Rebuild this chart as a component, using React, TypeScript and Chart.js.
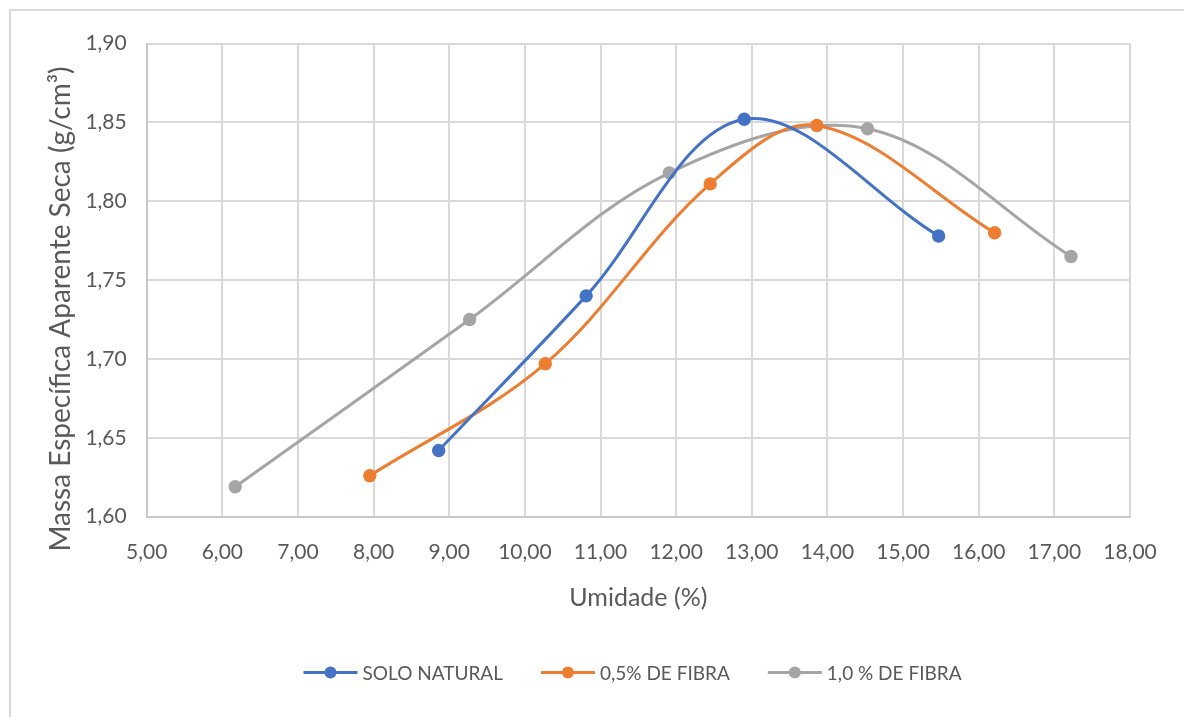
import React, { useEffect, useRef } from "react";
import { Chart, registerables } from "chart.js";

Chart.register(...registerables);

// ---- Data ----
const seriesNames = ["SOLO NATURAL", "0,5% DE FIBRA", "1,0 % DE FIBRA"];
const seriesColors = ["#4472C4", "#ED7D31", "#A5A5A5"];

const soloNaturalX = [8.86, 10.81, 12.9, 15.47];
const soloNaturalY = [1.642, 1.74, 1.852, 1.778];

const fibra05X = [7.95, 10.27, 12.45, 13.86, 16.21];
const fibra05Y = [1.626, 1.697, 1.811, 1.848, 1.78];

const fibra10X = [6.17, 9.27, 11.91, 14.53, 17.22];
const fibra10Y = [1.619, 1.725, 1.818, 1.846, 1.765];

const xTickValues = [5, 6, 7, 8, 9, 10, 11, 12, 13, 14, 15, 16, 17, 18];
const yTickValues = [1.6, 1.65, 1.7, 1.75, 1.8, 1.85, 1.9];

const xTitle = "Umidade (%)";
const yTitle = "Massa Específica Aparente Seca (g/cm³)";

const TEXT_COLOR = "#595959";
const GRID_COLOR = "#d9d9d9";
const FONT = "Lato";

const toPoints = (xs: number[], ys: number[]) => xs.map((x, i) => ({ x, y: ys[i] }));
const fmt = (v: number) => v.toFixed(2).replace(".", ",");

const legendPlugin = {
  id: "excelLegend",
  afterDraw(chart: any) {
    const ctx = chart.ctx as CanvasRenderingContext2D;
    ctx.save();
    ctx.font = "19px " + FONT;
    const markerW = 54;
    const gapText = 5;
    const gapItem = 38;
    const widths = seriesNames.map((n) => ctx.measureText(n).width);
    const total =
      widths.reduce((a, w) => a + markerW + gapText + w, 0) + gapItem * (seriesNames.length - 1);
    const centerX = 632.5;
    const y = 672.5;
    let x = centerX - total / 2;
    seriesNames.forEach((name, i) => {
      ctx.strokeStyle = seriesColors[i];
      ctx.lineWidth = 3;
      ctx.beginPath();
      ctx.moveTo(x, y);
      ctx.lineTo(x + markerW, y);
      ctx.stroke();
      ctx.fillStyle = seriesColors[i];
      ctx.beginPath();
      ctx.arc(x + markerW / 2, y, 6, 0, Math.PI * 2);
      ctx.fill();
      ctx.fillStyle = TEXT_COLOR;
      ctx.textBaseline = "middle";
      ctx.textAlign = "left";
      ctx.fillText(name, x + markerW + gapText, y + 1);
      x += markerW + gapText + widths[i] + gapItem;
    });
    ctx.restore();
  },
};

const yTitlePlugin = {
  id: "yTitle",
  afterDraw(chart: any) {
    const ctx = chart.ctx as CanvasRenderingContext2D;
    ctx.save();
    ctx.font = "28px " + FONT;
    ctx.fillStyle = TEXT_COLOR;
    ctx.textAlign = "center";
    ctx.textBaseline = "alphabetic";
    ctx.translate(70, 309);
    ctx.rotate(-Math.PI / 2);
    ctx.fillText(yTitle, 0, 0);
    ctx.restore();
  },
};

export default function App() {
  const canvasRef = useRef<HTMLCanvasElement | null>(null);

  useEffect(() => {
    if (!canvasRef.current) return;
    const makeDs = (i: number, xs: number[], ys: number[]) => ({
      label: seriesNames[i],
      data: toPoints(xs, ys),
      showLine: true,
      borderColor: seriesColors[i],
      backgroundColor: seriesColors[i],
      borderWidth: 3,
      pointRadius: 6.7,
      pointBorderWidth: 0,
      pointBackgroundColor: seriesColors[i],
      tension: 0.35,
    });
    const chart = new Chart(canvasRef.current, {
      type: "scatter",
      data: {
        datasets: [
          makeDs(0, soloNaturalX, soloNaturalY),
          makeDs(1, fibra05X, fibra05Y),
          makeDs(2, fibra10X, fibra10Y),
        ],
      },
      options: {
        animation: false,
        responsive: false,
        devicePixelRatio: 1,
        layout: { padding: { left: 0, top: 43.5, right: 54, bottom: 0 } },
        plugins: {
          legend: { display: false },
          tooltip: { enabled: false },
        },
        scales: {
          x: {
            type: "linear",
            min: 5,
            max: 18,
            afterBuildTicks: (scale: any) => {
              scale.ticks = xTickValues.map((v) => ({ value: v }));
            },
            afterFit: (scale: any) => {
              scale.height = 717 - 516.7;
            },
            grid: { color: GRID_COLOR, lineWidth: 2, drawTicks: false },
            border: { color: "#c8c8c8", width: 2 },
            ticks: {
              color: TEXT_COLOR,
              font: { family: FONT, size: 21 },
              padding: 23,
              maxRotation: 0,
              autoSkip: false,
              callback: (v: any) => fmt(Number(v)),
            },
            title: {
              display: true,
              text: xTitle,
              color: TEXT_COLOR,
              font: { family: FONT, size: 25 },
              padding: { top: 0, bottom: 104 },
            },
          },
          y: {
            type: "linear",
            min: 1.6,
            max: 1.9,
            afterBuildTicks: (scale: any) => {
              scale.ticks = yTickValues.map((v) => ({ value: v }));
            },
            afterFit: (scale: any) => {
              scale.width = 146.7;
            },
            grid: { color: GRID_COLOR, lineWidth: 2, drawTicks: false },
            border: { color: "#c8c8c8", width: 2 },
            ticks: {
              color: TEXT_COLOR,
              font: { family: FONT, size: 21 },
              padding: 20,
              autoSkip: false,
              callback: (v: any) => fmt(Number(v)),
            },
            title: { display: false, text: yTitle },
          },
        },
      },
      plugins: [legendPlugin, yTitlePlugin],
    } as any);
    return () => chart.destroy();
  }, []);

  return (
    <div style={{ position: "absolute", left: 0, top: 0, width: 1184, height: 717, background: "#fff" }}>
      <canvas ref={canvasRef} width={1184} height={717} style={{ display: "block" }} />
      <div
        style={{
          position: "absolute",
          left: 8.5,
          top: 8.5,
          right: 0,
          bottom: 0,
          borderTop: "2px solid #d9d9d9",
          borderLeft: "2px solid #d9d9d9",
          pointerEvents: "none",
        }}
      />
    </div>
  );
}
